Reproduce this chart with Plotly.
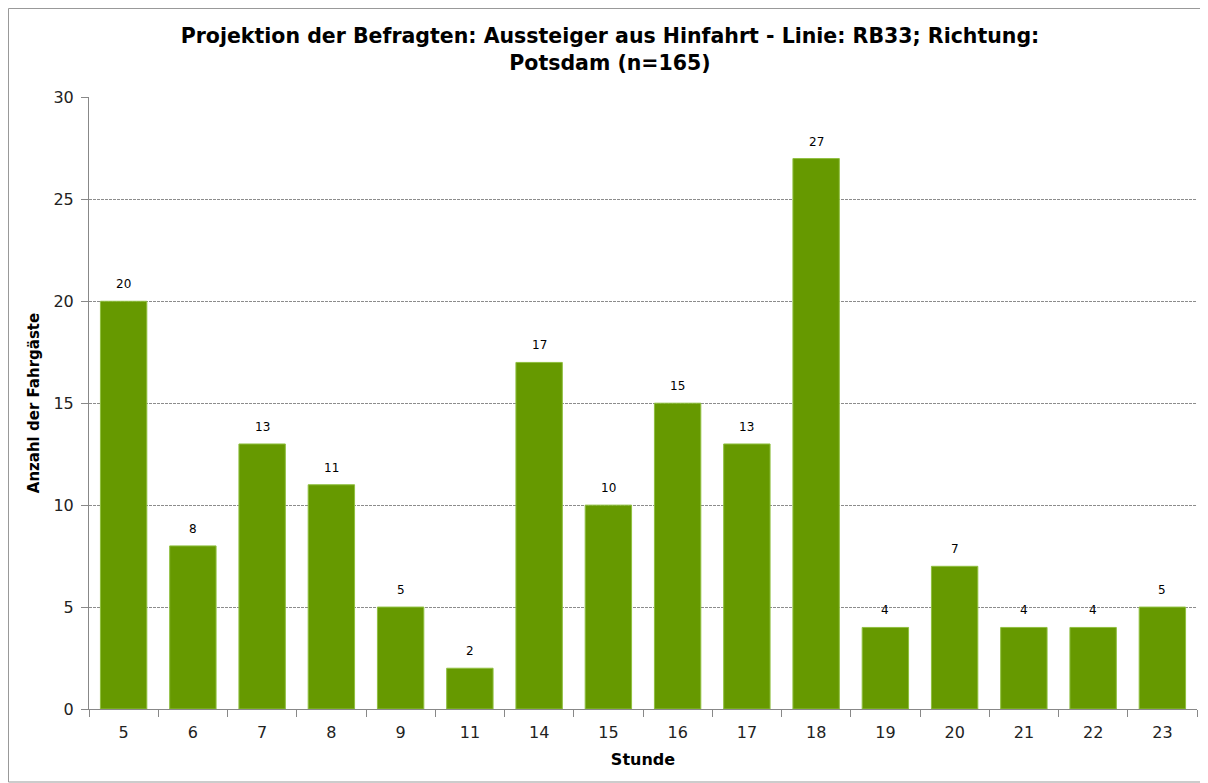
import plotly.graph_objects as go

stunden = ["5", "6", "7", "8", "9", "11", "14", "15", "16", "17", "18", "19", "20", "21", "22", "23"]
anzahl = [20, 8, 13, 11, 5, 2, 17, 10, 15, 13, 27, 4, 7, 4, 4, 5]
y_ticks = [0, 5, 10, 15, 20, 25, 30]

FONT = "DejaVu Sans"

# page has an 8px body margin; figure coordinates are offset accordingly
W, H = 1200, 775
L, R, T, B = 81, 11, 89, 74
PW, PH = W - L - R, H - T - B

fig = go.Figure(go.Bar(
    x=stunden, y=anzahl,
    marker=dict(color="#669900", line=dict(color="#8fbf3f", width=1)),
    hoverinfo="x+y",
))

for i, v in enumerate(anzahl):
    fig.add_annotation(x=i, y=v, text=str(v), showarrow=False,
                       yanchor="bottom", yshift=8,
                       font=dict(family=FONT, size=12, color="#000000"))

fig.update_layout(
    width=W, height=H,
    margin=dict(l=L, r=R, t=T, b=B),
    paper_bgcolor="white", plot_bgcolor="white",
    bargap=0.33,
    showlegend=False,
    title=dict(
        text="<b>Projektion der Befragten: Aussteiger aus Hinfahrt - Linie: RB33; Richtung:<br>Potsdam (n=165)</b>",
        x=(610 - 8) / W, xanchor="center", y=1 - 35 / H, yanchor="top",
        font=dict(family=FONT, size=20.5, color="#000000"),
    ),
    font=dict(family=FONT, color="#000000"),
    xaxis=dict(
        type="category",
        title=dict(text="<b>Stunde</b>", font=dict(family=FONT, size=16), standoff=12),
        tickfont=dict(family=FONT, size=16, color="#222222"),
        ticklabelstandoff=9,
        showline=True, linecolor="#888888", linewidth=1,
        ticks="outside", tickson="boundaries", ticklen=7, tickcolor="#888888",
        showgrid=False, mirror=False,
    ),
    yaxis=dict(
        range=[0, 30.02], tickvals=y_ticks,
        title=dict(text="<b>Anzahl der Fahrgäste</b>", font=dict(family=FONT, size=15), standoff=10),
        tickfont=dict(family=FONT, size=16, color="#222222"),
        ticklabelstandoff=4,
        showline=True, linecolor="#888888", linewidth=1,
        ticks="outside", ticklen=7, tickcolor="#888888",
        showgrid=True, gridcolor="#8c8c8c", griddash="3px,1px", gridwidth=1,
        zeroline=False,
    ),
    shapes=[dict(
        type="rect", xref="paper", yref="paper",
        x0=-(L - 0.5) / PW, x1=(PW + R + 5) / PW,
        y0=-(B - 1) / PH, y1=(PH + T - 0.5) / PH,
        line=dict(color="#999999", width=1), fillcolor="rgba(0,0,0,0)", layer="below",
    )],
)

fig.write_html("out.html")
